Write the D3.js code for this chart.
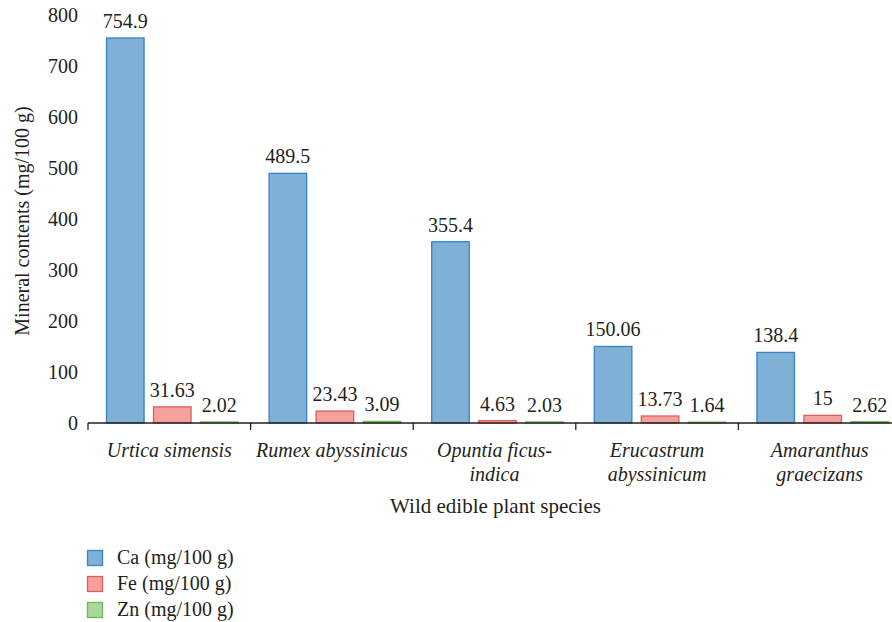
<!DOCTYPE html>
<html>
<head>
<meta charset="utf-8">
<script src="https://cdn.jsdelivr.net/npm/d3@7/dist/d3.min.js"></script>
<style>
  html, body { margin: 0; padding: 0; background: #fff; }
  svg { display: block; }
</style>
</head>
<body>
<svg id="chart" width="892" height="622"></svg>
<script>
const categories = ["Urtica simensis", "Rumex abyssinicus", "Opuntia ficus-indica", "Erucastrum abyssinicum", "Amaranthus graecizans"];
const categoryLines = [["Urtica simensis"], ["Rumex abyssinicus"], ["Opuntia ficus-", "indica"], ["Erucastrum", "abyssinicum"], ["Amaranthus", "graecizans"]];
const seriesNames = ["Ca (mg/100 g)", "Fe (mg/100 g)", "Zn (mg/100 g)"];
const caValues = [754.9, 489.5, 355.4, 150.06, 138.4];
const feValues = [31.63, 23.43, 4.63, 13.73, 15];
const znValues = [2.02, 3.09, 2.03, 1.64, 2.62];
const caLabels = ["754.9", "489.5", "355.4", "150.06", "138.4"];
const feLabels = ["31.63", "23.43", "4.63", "13.73", "15"];
const znLabels = ["2.02", "3.09", "2.03", "1.64", "2.62"];
const yTicks = [0, 100, 200, 300, 400, 500, 600, 700, 800];
const fills = ["#7fb0d5", "#f4a19e", "#a9d89b"];
const strokes = ["#3484c6", "#d9605c", "#6cb85a"];

const series = [
  { name: seriesNames[0], values: caValues, labels: caLabels },
  { name: seriesNames[1], values: feValues, labels: feLabels },
  { name: seriesNames[2], values: znValues, labels: znLabels }
];

(function () {
const FONT = '"Liberation Serif"';
const FS = 20;
const INK = "#231f20";
const svg = d3.select("#chart");
const mLeft = 88, mRight = 901, mTop = 15, mBottom = 423;

const x = d3.scaleBand().domain(categories).range([mLeft, mRight]).paddingInner(0).paddingOuter(0);
const xInner = d3.scaleBand().domain(seriesNames).range([18, x.bandwidth() - 12]).paddingInner(0.18).paddingOuter(0);
const y = d3.scaleLinear().domain([0, 800]).range([mBottom, mTop]);

const txt = sel => sel.style("font-family", FONT).style("font-size", FS + "px").attr("fill", INK);

// Y axis (labels only)
const yAxis = d3.axisLeft(y).tickValues(yTicks).tickSize(0).tickPadding(10).tickFormat(d3.format("d"));
const yg = svg.append("g").attr("transform", `translate(${mLeft},0)`).call(yAxis);
yg.select(".domain").remove();
yg.selectAll("text").call(txt);

// Bars
const groups = svg.append("g").selectAll("g").data(categories).join("g")
  .attr("transform", d => `translate(${x(d)},0)`);

series.forEach((s, si) => {
  groups.append("rect")
    .attr("x", xInner(s.name) + 0.5)
    .attr("y", (d, i) => y(s.values[i]))
    .attr("width", xInner.bandwidth() - 1)
    .attr("height", (d, i) => y(0) - y(s.values[i]))
    .attr("fill", fills[si])
    .attr("stroke", strokes[si])
    .attr("stroke-width", 1.3);
  groups.append("text")
    .attr("x", xInner(s.name) + xInner.bandwidth() / 2)
    .attr("y", (d, i) => y(s.values[i]) - 10)
    .attr("text-anchor", "middle")
    .call(txt)
    .text((d, i) => s.labels[i]);
});

// X axis
const xAxis = d3.axisBottom(x).tickSize(0).tickFormat("");
const xg = svg.append("g").attr("transform", `translate(0,${mBottom})`).call(xAxis);
xg.select(".domain").attr("stroke", INK).attr("stroke-width", 1.3).attr("d", `M${mLeft},0H${mRight}`);
const bounds = categories.map(c => x(c));
xg.selectAll(".bound").data(bounds).join("line").attr("class", "bound")
  .attr("x1", d => d).attr("x2", d => d).attr("y1", 0).attr("y2", 7)
  .attr("stroke", INK).attr("stroke-width", 1.3);

// Category labels
const catText = svg.append("g").selectAll("text").data(categories).join("text")
  .attr("x", d => x(d) + x.bandwidth() / 2)
  .attr("y", 457)
  .attr("text-anchor", "middle")
  .call(txt)
  .style("font-style", "italic");
catText.each(function (d, i) {
  const t = d3.select(this);
  categoryLines[i].forEach((ln, j) => {
    t.append("tspan").attr("x", x(d) + x.bandwidth() / 2).attr("dy", j === 0 ? 0 : 24).text(ln);
  });
});

// Axis titles
svg.append("text")
  .attr("x", (mLeft + mRight) / 2 + 1)
  .attr("y", 513)
  .attr("text-anchor", "middle")
  .call(txt)
  .style("font-size", "21px")
  .text("Wild edible plant species");

svg.append("text")
  .attr("transform", `translate(29,221) rotate(-90)`)
  .attr("text-anchor", "middle")
  .call(txt)
  .text("Mineral contents (mg/100 g)");

// Legend
const legend = svg.append("g").selectAll("g").data(series).join("g")
  .attr("transform", (d, i) => `translate(87,${550 + i * 26})`);
legend.append("rect")
  .attr("x", 0.5).attr("y", 0.5).attr("width", 15).attr("height", 15)
  .attr("fill", (d, i) => fills[i]).attr("stroke", (d, i) => strokes[i]).attr("stroke-width", 1.3);
legend.append("text")
  .attr("x", 30).attr("y", 14)
  .call(txt)
  .text(d => d.name);
})();
</script>
</body>
</html>
